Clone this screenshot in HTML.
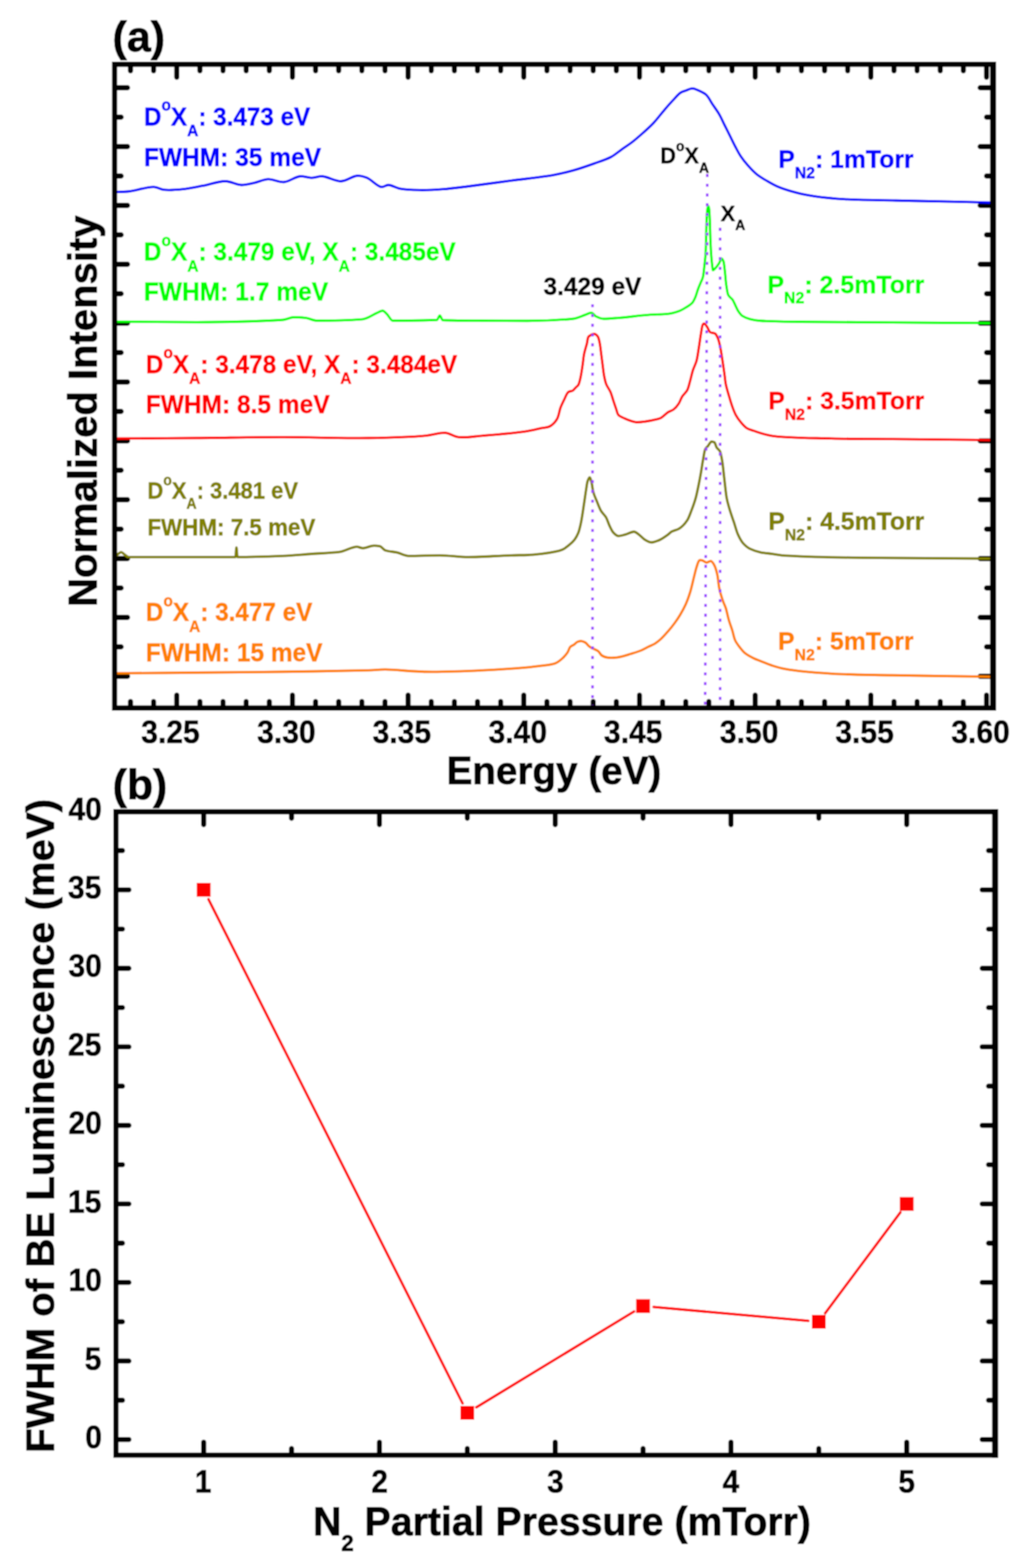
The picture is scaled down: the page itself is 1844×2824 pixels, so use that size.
<!DOCTYPE html>
<html><head><meta charset="utf-8"><title>PL spectra and FWHM vs N2 partial pressure</title>
<style>html,body{margin:0;padding:0;background:#fff;}svg{display:block;}</style></head>
<body>
<svg width="1844" height="2824" viewBox="0 0 1844 2824">
<defs><filter id="soft" filterUnits="userSpaceOnUse" x="0" y="0" width="1844" height="2824"><feGaussianBlur stdDeviation="1.3"/></filter><clipPath id="ca"><rect x="206.4" y="115.8" width="1581.8999999999999" height="1159.3"/></clipPath></defs>
<g filter="url(#soft)">
<rect width="1844" height="2824" fill="#fff"/>
<g fill="none" stroke="#000" stroke-linecap="round" stroke-width="9.3"><path d="M235.0,1270.5 V1263.3 M235.0,120.39999999999999 V127.6 M276.6,1270.5 V1263.3 M276.6,120.39999999999999 V127.6 M318.3,1270.5 V1251.8 M318.3,120.39999999999999 V139.1 M360.0,1270.5 V1263.3 M360.0,120.39999999999999 V127.6 M401.6,1270.5 V1263.3 M401.6,120.39999999999999 V127.6 M443.3,1270.5 V1263.3 M443.3,120.39999999999999 V127.6 M485.0,1270.5 V1263.3 M485.0,120.39999999999999 V127.6 M526.6,1270.5 V1251.8 M526.6,120.39999999999999 V139.1 M568.3,1270.5 V1263.3 M568.3,120.39999999999999 V127.6 M609.9,1270.5 V1263.3 M609.9,120.39999999999999 V127.6 M651.6,1270.5 V1263.3 M651.6,120.39999999999999 V127.6 M693.3,1270.5 V1263.3 M693.3,120.39999999999999 V127.6 M734.9,1270.5 V1251.8 M734.9,120.39999999999999 V139.1 M776.6,1270.5 V1263.3 M776.6,120.39999999999999 V127.6 M818.3,1270.5 V1263.3 M818.3,120.39999999999999 V127.6 M859.9,1270.5 V1263.3 M859.9,120.39999999999999 V127.6 M901.6,1270.5 V1263.3 M901.6,120.39999999999999 V127.6 M943.2,1270.5 V1251.8 M943.2,120.39999999999999 V139.1 M984.9,1270.5 V1263.3 M984.9,120.39999999999999 V127.6 M1026.6,1270.5 V1263.3 M1026.6,120.39999999999999 V127.6 M1068.2,1270.5 V1263.3 M1068.2,120.39999999999999 V127.6 M1109.9,1270.5 V1263.3 M1109.9,120.39999999999999 V127.6 M1151.6,1270.5 V1251.8 M1151.6,120.39999999999999 V139.1 M1193.2,1270.5 V1263.3 M1193.2,120.39999999999999 V127.6 M1234.9,1270.5 V1263.3 M1234.9,120.39999999999999 V127.6 M1276.5,1270.5 V1263.3 M1276.5,120.39999999999999 V127.6 M1318.2,1270.5 V1263.3 M1318.2,120.39999999999999 V127.6 M1359.9,1270.5 V1251.8 M1359.9,120.39999999999999 V139.1 M1401.5,1270.5 V1263.3 M1401.5,120.39999999999999 V127.6 M1443.2,1270.5 V1263.3 M1443.2,120.39999999999999 V127.6 M1484.9,1270.5 V1263.3 M1484.9,120.39999999999999 V127.6 M1526.5,1270.5 V1263.3 M1526.5,120.39999999999999 V127.6 M1568.2,1270.5 V1251.8 M1568.2,120.39999999999999 V139.1 M1609.9,1270.5 V1263.3 M1609.9,120.39999999999999 V127.6 M1651.5,1270.5 V1263.3 M1651.5,120.39999999999999 V127.6 M1693.2,1270.5 V1263.3 M1693.2,120.39999999999999 V127.6 M1734.8,1270.5 V1263.3 M1734.8,120.39999999999999 V127.6 M1776.5,1270.5 V1251.8 M1776.5,120.39999999999999 V139.1 M211.0,158.0 H229.70000000000002 M1783.7,158.0 H1765.0 M211.0,211.0 H218.20000000000002 M1783.7,211.0 H1776.5 M211.0,264.0 H229.70000000000002 M1783.7,264.0 H1765.0 M211.0,317.0 H218.20000000000002 M1783.7,317.0 H1776.5 M211.0,370.0 H229.70000000000002 M1783.7,370.0 H1765.0 M211.0,423.0 H218.20000000000002 M1783.7,423.0 H1776.5 M211.0,476.0 H229.70000000000002 M1783.7,476.0 H1765.0 M211.0,529.0 H218.20000000000002 M1783.7,529.0 H1776.5 M211.0,582.0 H229.70000000000002 M1783.7,582.0 H1765.0 M211.0,635.0 H218.20000000000002 M1783.7,635.0 H1776.5 M211.0,688.0 H229.70000000000002 M1783.7,688.0 H1765.0 M211.0,741.0 H218.20000000000002 M1783.7,741.0 H1776.5 M211.0,794.0 H229.70000000000002 M1783.7,794.0 H1765.0 M211.0,847.0 H218.20000000000002 M1783.7,847.0 H1776.5 M211.0,900.0 H229.70000000000002 M1783.7,900.0 H1765.0 M211.0,953.0 H218.20000000000002 M1783.7,953.0 H1776.5 M211.0,1006.0 H229.70000000000002 M1783.7,1006.0 H1765.0 M211.0,1059.0 H218.20000000000002 M1783.7,1059.0 H1776.5 M211.0,1112.0 H229.70000000000002 M1783.7,1112.0 H1765.0 M211.0,1165.0 H218.20000000000002 M1783.7,1165.0 H1776.5 M211.0,1218.0 H229.70000000000002 M1783.7,1218.0 H1765.0"/><path d="M366.8,2616.1 V2597.3999999999996 M366.8,1466.6 V1485.3 M525.0,2616.1 V2608.8999999999996 M525.0,1466.6 V1473.8 M683.3,2616.1 V2597.3999999999996 M683.3,1466.6 V1485.3 M841.5,2616.1 V2608.8999999999996 M841.5,1466.6 V1473.8 M999.8,2616.1 V2597.3999999999996 M999.8,1466.6 V1485.3 M1158.0,2616.1 V2608.8999999999996 M1158.0,1466.6 V1473.8 M1316.3,2616.1 V2597.3999999999996 M1316.3,1466.6 V1485.3 M1474.5,2616.1 V2608.8999999999996 M1474.5,1466.6 V1473.8 M1632.8,2616.1 V2597.3999999999996 M1632.8,1466.6 V1485.3 M213.4,2592.6 H232.10000000000002 M1787.4,2592.6 H1768.7 M213.4,2521.9 H220.60000000000002 M1787.4,2521.9 H1780.2 M213.4,2451.2 H232.10000000000002 M1787.4,2451.2 H1768.7 M213.4,2380.5 H220.60000000000002 M1787.4,2380.5 H1780.2 M213.4,2309.7 H232.10000000000002 M1787.4,2309.7 H1768.7 M213.4,2239.0 H220.60000000000002 M1787.4,2239.0 H1780.2 M213.4,2168.3 H232.10000000000002 M1787.4,2168.3 H1768.7 M213.4,2097.6 H220.60000000000002 M1787.4,2097.6 H1780.2 M213.4,2026.9 H232.10000000000002 M1787.4,2026.9 H1768.7 M213.4,1956.2 H220.60000000000002 M1787.4,1956.2 H1780.2 M213.4,1885.4 H232.10000000000002 M1787.4,1885.4 H1768.7 M213.4,1814.7 H220.60000000000002 M1787.4,1814.7 H1780.2 M213.4,1744.0 H232.10000000000002 M1787.4,1744.0 H1768.7 M213.4,1673.3 H220.60000000000002 M1787.4,1673.3 H1780.2 M213.4,1602.6 H232.10000000000002 M1787.4,1602.6 H1768.7 M213.4,1531.9 H220.60000000000002 M1787.4,1531.9 H1780.2"/></g>
<g clip-path="url(#ca)" fill="none" stroke-width="4.6" stroke-linejoin="round" stroke-linecap="round">
<path d="M200.0,346.2 C202.6,346.1 204.4,346.0 207.7,345.9 C213.4,345.7 221.9,345.9 230.9,344.9 C243.7,343.5 265.4,336.1 277.2,336.7 C284.6,337.1 288.2,340.9 295.2,341.8 C304.6,343.0 317.4,341.9 328.7,340.8 C340.5,339.6 352.3,336.9 364.7,334.6 C378.0,332.1 393.5,326.2 405.9,326.4 C416.2,326.6 425.2,332.8 434.2,333.1 C442.3,333.4 449.5,331.0 457.4,329.4 C465.8,327.7 474.3,323.1 483.1,322.8 C492.3,322.5 502.1,328.7 511.5,327.9 C521.1,327.1 531.0,318.6 539.8,317.6 C547.1,316.8 553.5,320.2 560.4,320.2 C567.3,320.2 573.4,317.1 581.0,317.6 C590.9,318.3 603.8,326.8 614.4,326.4 C624.3,326.0 634.3,317.2 642.7,316.6 C649.3,316.2 654.4,317.7 660.7,320.2 C668.8,323.5 679.2,335.6 686.5,336.7 C691.4,337.4 694.6,333.0 699.4,333.1 C705.5,333.2 712.1,338.2 720.0,339.7 C730.2,341.7 743.6,342.1 756.0,342.3 C769.3,342.5 783.1,341.8 797.2,340.8 C812.2,339.7 826.1,337.7 843.5,335.6 C866.0,332.8 895.0,328.7 920.7,325.3 C946.5,321.9 977.4,318.8 998.0,315.0 C1012.0,312.4 1021.1,310.1 1032.8,306.8 C1045.1,303.3 1058.3,298.7 1070.0,294.5 C1080.6,290.7 1091.3,287.5 1100.0,282.9 C1107.4,278.9 1112.9,273.8 1119.3,269.3 C1125.7,264.8 1132.3,260.7 1138.6,255.8 C1145.2,250.7 1151.5,245.1 1157.9,239.4 C1164.4,233.6 1171.0,227.8 1177.2,221.1 C1183.8,214.0 1190.4,205.0 1196.5,197.9 C1201.9,191.6 1206.9,185.9 1212.0,180.5 C1216.6,175.6 1221.1,169.9 1225.5,167.0 C1228.7,164.9 1231.7,164.4 1235.1,163.2 C1238.8,161.9 1242.8,159.3 1246.7,159.3 C1250.6,159.3 1254.4,161.4 1258.3,163.2 C1262.7,165.2 1267.8,167.2 1271.8,170.9 C1276.4,175.2 1279.5,182.5 1283.4,188.3 C1287.3,194.1 1291.5,199.6 1295.0,205.6 C1298.6,211.7 1301.4,218.5 1304.6,224.9 C1307.8,231.3 1311.1,237.8 1314.3,244.2 C1317.5,250.7 1320.6,257.4 1323.9,263.6 C1327.1,269.6 1329.9,275.3 1333.6,280.9 C1337.5,286.8 1342.3,292.8 1347.1,298.3 C1351.9,303.7 1356.8,309.1 1362.5,313.7 C1368.4,318.5 1375.5,322.5 1381.9,326.3 C1388.0,329.9 1393.4,333.0 1400.0,335.9 C1407.5,339.2 1416.2,342.0 1425.0,344.5 C1434.5,347.2 1443.5,349.6 1454.9,351.6 C1470.0,354.3 1487.0,356.4 1507.7,358.0 C1536.8,360.2 1578.0,360.2 1613.2,361.1 C1648.4,362.0 1688.0,362.5 1718.7,363.2 C1742.5,363.7 1768.8,364.5 1782.0,364.8 C1788.0,364.9 1790.7,364.9 1795.0,365.0" stroke="#0000ff" />
<path d="M200.0,579.2 C202.6,579.2 205.1,579.2 207.7,579.2 C256.6,579.2 305.5,580.2 354.4,580.2 C405.9,580.2 457.4,579.2 508.9,576.1 C515.8,575.7 522.6,571.4 529.5,571.4 C536.3,571.4 543.2,571.9 550.0,572.5 C556.9,573.1 563.8,577.6 570.7,577.6 C598.1,577.6 625.6,576.9 653.0,575.0 C661.6,574.4 670.2,567.3 678.8,563.7 C682.2,562.3 685.6,559.6 689.0,559.6 C691.6,559.6 694.2,563.4 696.8,565.8 C700.2,569.0 703.7,577.6 707.1,577.6 C733.7,577.6 760.3,577.5 786.9,576.1 C788.6,576.0 790.3,568.3 792.0,568.3 C793.7,568.3 795.5,576.5 797.2,576.6 C821.2,577.5 845.2,577.5 869.2,577.6 C896.1,577.8 923.1,577.9 950.0,577.9 C977.3,577.9 1004.7,576.7 1032.0,574.1 C1039.3,573.4 1046.6,569.5 1053.9,567.0 C1057.6,565.8 1061.2,563.2 1064.9,563.2 C1067.6,563.2 1070.4,568.4 1073.1,569.7 C1077.6,571.9 1082.2,574.1 1086.7,574.1 C1095.8,574.1 1105.0,573.2 1114.1,572.5 C1132.3,571.2 1150.6,568.1 1168.8,567.0 C1179.2,566.3 1189.6,566.3 1200.0,565.5 C1203.9,565.2 1207.7,564.5 1211.6,563.7 C1215.5,562.9 1219.3,561.7 1223.2,560.2 C1227.1,558.7 1230.9,556.3 1234.8,553.9 C1238.6,551.5 1242.5,549.9 1246.3,545.8 C1248.2,543.7 1250.2,539.7 1252.1,535.3 C1253.7,531.8 1255.2,525.6 1256.8,521.4 C1258.3,517.2 1259.9,513.7 1261.4,509.9 C1262.9,506.1 1264.5,504.5 1266.0,498.3 C1266.9,494.8 1267.7,485.3 1268.6,477.4 C1269.3,471.0 1270.0,467.5 1270.7,455.7 C1271.0,451.2 1271.2,439.5 1271.5,430.6 C1271.8,419.5 1272.2,401.4 1272.5,395.0 C1273.0,385.4 1273.5,378.6 1274.0,376.0 C1274.5,373.4 1275.0,371.0 1275.5,371.0 C1276.0,371.0 1276.5,373.2 1277.0,376.0 C1277.4,378.3 1277.8,386.5 1278.2,395.0 C1278.6,402.8 1278.9,421.3 1279.3,430.6 C1279.7,440.8 1280.1,449.7 1280.5,455.7 C1281.1,464.2 1281.6,470.3 1282.2,475.0 C1282.8,480.0 1283.4,486.7 1284.0,486.7 C1285.3,486.7 1286.7,484.6 1288.0,483.2 C1290.3,480.8 1292.7,477.5 1295.0,473.9 C1296.5,471.6 1298.1,465.8 1299.6,465.8 C1300.8,465.8 1301.9,468.3 1303.1,471.6 C1303.9,473.8 1304.6,482.4 1305.4,489.0 C1306.2,495.6 1306.9,506.8 1307.7,512.2 C1308.9,520.5 1310.0,528.3 1311.2,530.7 C1313.9,536.3 1316.6,536.0 1319.3,540.0 C1320.8,542.3 1322.4,546.1 1323.9,549.2 C1325.8,553.1 1327.8,557.9 1329.7,560.8 C1332.0,564.2 1334.4,567.4 1336.7,568.9 C1341.3,571.9 1346.0,573.6 1350.6,574.7 C1356.4,576.1 1362.2,577.2 1368.0,577.6 C1372.0,577.9 1376.0,578.1 1380.0,578.2 C1400.8,578.9 1421.5,579.4 1442.3,579.6 C1497.0,580.2 1551.7,580.4 1606.4,580.7 C1666.6,581.1 1726.7,581.8 1786.9,581.8 C1789.6,581.8 1792.3,581.8 1795.0,581.8" stroke="#00ff00" />
<path d="M200.0,789.9 C202.6,789.9 203.5,789.9 207.7,789.9 C225.9,789.8 304.9,789.3 354.4,788.9 C405.2,788.5 457.4,787.3 508.9,787.3 C560.4,787.3 617.0,789.6 663.3,788.9 C701.1,788.3 740.8,787.0 766.3,784.7 C781.4,783.3 791.7,778.6 802.3,779.6 C811.0,780.4 816.4,786.1 825.5,787.3 C837.7,788.9 852.6,786.0 869.2,784.7 C891.3,782.9 927.1,780.0 946.5,777.0 C958.4,775.2 967.0,772.7 975.0,771.0 C980.8,769.8 985.5,770.3 990.0,767.9 C994.9,765.3 999.7,760.3 1002.9,755.0 C1006.4,749.3 1007.0,740.6 1009.3,734.4 C1011.3,729.2 1013.4,725.0 1015.7,720.3 C1018.1,715.5 1020.3,708.8 1023.5,706.1 C1025.8,704.2 1028.9,705.0 1031.2,703.6 C1033.6,702.1 1035.7,699.0 1037.6,697.1 C1039.1,695.7 1040.4,695.1 1041.5,693.3 C1043.2,690.4 1044.2,685.4 1045.3,680.4 C1046.8,673.8 1048.1,664.6 1049.2,657.2 C1050.2,650.5 1050.5,644.3 1051.8,637.9 C1053.1,631.4 1055.5,624.2 1056.9,618.6 C1058.0,614.3 1057.8,609.6 1059.5,607.0 C1060.7,605.1 1062.8,604.2 1064.6,603.2 C1066.3,602.3 1068.0,601.0 1069.8,601.2 C1071.9,601.5 1074.6,603.4 1076.2,605.7 C1078.4,608.7 1079.1,613.8 1080.1,618.6 C1081.3,624.3 1081.8,631.5 1082.7,637.9 C1083.5,644.3 1084.4,650.8 1085.2,657.2 C1086.1,663.6 1086.6,670.4 1087.8,676.5 C1088.9,682.0 1089.8,687.1 1091.7,692.0 C1093.6,696.9 1097.3,701.2 1099.4,706.1 C1101.5,711.1 1102.8,716.4 1104.5,721.6 C1106.2,726.7 1108.1,732.4 1109.7,737.0 C1111.1,740.8 1111.2,744.6 1113.6,747.3 C1116.2,750.3 1120.7,751.7 1125.1,753.7 C1130.6,756.1 1137.9,759.4 1144.4,760.2 C1150.8,761.0 1157.3,759.8 1163.7,758.9 C1170.2,758.0 1178.3,756.2 1183.1,755.0 C1186.0,754.2 1187.5,754.1 1190.0,752.8 C1193.8,750.8 1198.7,745.2 1202.9,742.5 C1206.4,740.2 1210.1,739.7 1213.2,737.3 C1216.6,734.7 1219.7,730.8 1222.2,727.0 C1224.8,723.1 1226.0,718.2 1228.6,714.1 C1231.2,710.0 1235.3,707.0 1237.6,702.6 C1240.1,697.7 1241.1,691.6 1242.8,685.8 C1244.6,679.6 1245.9,672.6 1247.9,666.5 C1249.8,660.7 1252.6,655.8 1254.3,649.8 C1256.2,643.1 1256.9,635.5 1258.2,627.9 C1259.6,619.7 1260.7,610.0 1262.1,602.2 C1263.3,595.6 1264.0,586.7 1265.9,584.2 C1266.7,583.2 1267.6,582.7 1268.5,582.9 C1270.1,583.2 1272.1,586.9 1273.7,589.3 C1275.5,592.0 1276.4,596.4 1278.8,598.3 C1281.1,600.1 1285.5,599.1 1287.8,600.9 C1290.3,602.8 1291.6,606.5 1293.0,609.9 C1294.7,614.0 1295.6,618.8 1296.8,624.1 C1298.3,630.8 1299.4,639.3 1300.7,647.2 C1302.0,655.6 1303.4,665.0 1304.5,673.0 C1305.5,679.9 1305.8,685.9 1307.1,692.3 C1308.4,698.8 1310.4,705.1 1312.3,711.6 C1314.3,718.4 1316.4,725.9 1318.7,732.2 C1320.7,737.8 1322.5,742.8 1325.1,747.6 C1327.6,752.2 1330.8,756.6 1334.1,760.5 C1337.3,764.3 1340.5,768.2 1344.4,770.8 C1348.2,773.3 1352.0,774.1 1357.3,775.9 C1365.7,778.7 1375.8,782.7 1390.0,784.9 C1415.2,788.9 1461.1,788.7 1497.0,789.7 C1533.3,790.7 1565.4,790.4 1606.4,790.8 C1659.1,791.3 1765.9,792.4 1786.9,792.5 C1791.4,792.5 1792.3,792.5 1795.0,792.5" stroke="#ff0000" />
<path d="M200.0,1003.0 C202.3,1003.0 204.7,1003.0 207.0,1003.0 C209.0,1003.0 211.0,998.9 213.0,997.5 C214.8,996.3 216.6,994.5 218.4,994.5 C220.3,994.5 222.1,997.3 224.0,998.5 C226.6,1000.2 229.2,1003.3 231.8,1003.3 C272.7,1003.3 313.5,1003.3 354.4,1003.3 C377.6,1003.3 400.8,1003.3 424.0,1003.2 C424.6,1003.2 425.2,986.0 425.8,986.0 C426.4,986.0 427.0,1003.2 427.6,1003.2 C454.7,1003.2 481.8,1002.2 508.9,1001.2 C526.1,1000.6 543.2,998.8 560.4,997.6 C577.5,996.4 594.7,996.1 611.8,994.0 C622.1,992.8 632.4,984.7 642.7,984.7 C646.1,984.7 649.6,987.3 653.0,987.3 C659.9,987.3 666.7,982.7 673.6,982.7 C677.0,982.7 680.5,983.1 683.9,983.7 C687.3,984.3 690.8,990.4 694.2,991.4 C701.1,993.5 707.9,993.5 714.8,995.0 C721.7,996.5 728.5,1001.2 735.4,1001.2 C754.3,1001.2 773.1,1000.2 792.0,1000.2 C809.2,1000.2 826.3,1003.3 843.5,1003.3 C869.2,1003.3 895.0,1000.9 920.7,1000.2 C930.5,999.9 940.2,999.9 950.0,999.6 C958.3,999.3 966.7,998.4 975.0,997.5 C983.3,996.6 991.7,995.4 1000.0,993.6 C1004.3,992.7 1008.6,991.6 1012.9,989.8 C1017.2,988.0 1021.4,984.4 1025.7,980.8 C1028.7,978.3 1031.7,975.7 1034.7,971.8 C1036.9,969.0 1039.0,965.5 1041.2,960.2 C1042.9,956.0 1044.6,948.9 1046.3,940.9 C1048.0,932.8 1049.8,919.9 1051.5,908.7 C1052.8,900.5 1054.0,891.0 1055.3,883.0 C1056.2,877.5 1057.0,870.2 1057.9,867.5 C1059.2,863.5 1060.5,859.8 1061.8,859.8 C1062.9,859.8 1063.9,863.9 1065.0,867.5 C1066.1,871.1 1067.1,881.5 1068.2,885.5 C1070.3,893.5 1072.5,897.0 1074.6,902.3 C1077.2,908.7 1079.8,916.0 1082.4,920.3 C1085.4,925.3 1088.4,926.8 1091.4,931.9 C1093.5,935.5 1095.7,942.9 1097.8,947.3 C1099.9,951.7 1102.1,956.7 1104.2,958.9 C1107.2,962.1 1110.3,965.3 1113.3,965.3 C1117.6,965.3 1121.8,963.8 1126.1,962.8 C1131.3,961.5 1136.4,957.6 1141.6,957.6 C1144.6,957.6 1147.6,960.7 1150.6,962.8 C1154.0,965.2 1157.5,969.9 1160.9,971.8 C1165.2,974.2 1169.4,976.9 1173.7,976.9 C1178.0,976.9 1182.3,974.7 1186.6,973.0 C1192.0,970.8 1197.5,966.7 1202.9,962.8 C1205.0,961.3 1207.2,958.8 1209.3,957.6 C1213.6,955.2 1217.9,954.9 1222.2,952.5 C1227.3,949.6 1232.5,944.6 1237.6,937.0 C1240.2,933.2 1242.7,925.7 1245.3,919.0 C1247.9,912.2 1250.5,905.3 1253.1,895.8 C1254.8,889.6 1256.5,881.0 1258.2,872.7 C1259.5,866.3 1260.8,859.5 1262.1,852.1 C1263.4,844.9 1264.6,835.8 1265.9,828.9 C1267.2,821.8 1268.5,812.3 1269.8,809.6 C1271.5,806.1 1273.2,805.3 1274.9,803.2 C1277.1,800.5 1279.2,795.4 1281.4,795.4 C1283.1,795.4 1284.8,795.9 1286.5,796.7 C1287.8,797.3 1289.1,803.6 1290.4,805.7 C1292.5,809.2 1294.7,809.2 1296.8,813.5 C1298.1,816.1 1299.4,823.7 1300.7,831.5 C1302.0,839.1 1303.2,853.1 1304.5,863.7 C1305.8,874.6 1307.1,888.7 1308.4,895.8 C1310.1,905.2 1311.9,910.4 1313.6,916.4 C1316.2,925.3 1318.7,931.9 1321.3,939.6 C1323.9,947.3 1326.4,957.2 1329.0,962.8 C1332.0,969.4 1335.0,974.9 1338.0,978.2 C1342.3,983.0 1346.6,986.4 1350.9,988.5 C1357.3,991.6 1363.8,993.7 1370.2,994.9 C1376.8,996.1 1383.4,996.6 1390.0,997.5 C1398.3,998.6 1406.6,1000.3 1414.9,1000.7 C1460.5,1003.1 1506.1,1004.0 1551.7,1004.5 C1630.1,1005.4 1708.5,1006.1 1786.9,1006.1 C1789.6,1006.1 1792.3,1006.1 1795.0,1006.1" stroke="#808000" />
<path d="M200.0,1212.5 C202.6,1212.5 203.5,1212.5 207.7,1212.5 C225.9,1212.4 304.9,1211.8 354.4,1211.4 C405.2,1211.0 457.4,1210.6 508.9,1209.9 C560.4,1209.2 631.5,1208.3 663.3,1207.3 C677.5,1206.8 681.8,1205.7 694.2,1205.8 C713.2,1205.9 740.1,1209.5 766.3,1209.9 C797.5,1210.4 837.4,1208.8 869.2,1207.3 C896.8,1206.0 927.0,1203.9 946.5,1202.2 C958.3,1201.1 965.8,1200.3 975.0,1199.0 C983.6,1197.8 993.3,1197.4 1000.0,1194.6 C1005.3,1192.4 1009.2,1189.0 1012.9,1185.6 C1016.4,1182.5 1019.5,1178.9 1021.9,1175.3 C1024.1,1172.0 1024.8,1167.4 1027.0,1165.0 C1028.8,1163.1 1031.4,1162.7 1033.5,1161.2 C1035.7,1159.7 1037.5,1157.1 1039.9,1156.0 C1042.2,1154.9 1045.2,1154.4 1047.6,1154.7 C1049.9,1154.9 1052.1,1156.0 1054.1,1157.3 C1056.4,1158.8 1058.3,1161.9 1060.5,1163.7 C1062.5,1165.3 1064.5,1166.3 1066.9,1167.6 C1069.9,1169.3 1074.3,1170.5 1077.2,1172.8 C1079.9,1174.9 1081.0,1178.6 1083.7,1180.5 C1086.5,1182.5 1090.2,1183.6 1094.0,1184.3 C1098.6,1185.1 1104.5,1184.8 1109.4,1184.3 C1113.9,1183.9 1118.0,1182.9 1122.3,1181.8 C1126.6,1180.7 1130.4,1179.4 1135.1,1177.9 C1140.9,1176.1 1148.7,1173.9 1154.4,1171.5 C1159.2,1169.5 1163.0,1167.2 1167.3,1165.0 C1171.6,1162.9 1176.3,1161.1 1180.2,1158.6 C1183.8,1156.3 1186.6,1154.0 1190.0,1150.9 C1194.2,1147.1 1198.8,1141.8 1203.0,1137.0 C1207.2,1132.2 1211.3,1127.1 1215.0,1122.0 C1218.6,1117.1 1221.8,1112.4 1225.0,1107.0 C1228.5,1101.1 1232.0,1094.7 1235.0,1088.0 C1238.1,1081.0 1240.6,1073.7 1243.0,1066.0 C1245.5,1057.8 1247.5,1048.0 1249.5,1040.0 C1251.3,1033.2 1252.6,1026.5 1254.5,1021.0 C1256.0,1016.6 1257.2,1010.8 1259.5,1009.3 C1261.0,1008.3 1262.8,1008.9 1264.6,1009.3 C1267.0,1009.9 1269.8,1013.0 1272.4,1013.2 C1274.9,1013.4 1277.8,1010.0 1280.1,1010.6 C1282.6,1011.3 1284.7,1015.0 1286.5,1018.3 C1288.9,1022.6 1290.3,1028.8 1291.7,1035.0 C1293.4,1042.6 1293.7,1052.6 1295.5,1060.8 C1297.2,1068.5 1299.8,1076.4 1302.0,1082.7 C1303.7,1087.6 1305.5,1090.7 1307.1,1095.5 C1309.0,1101.5 1310.3,1109.4 1312.3,1116.1 C1314.2,1122.7 1316.7,1129.1 1318.7,1135.4 C1320.6,1141.5 1321.5,1148.2 1323.9,1153.4 C1326.0,1157.9 1328.7,1161.2 1331.6,1165.0 C1334.7,1169.0 1337.8,1173.2 1341.9,1176.6 C1346.3,1180.2 1352.3,1183.2 1357.3,1185.6 C1361.7,1187.8 1365.4,1188.9 1370.2,1190.8 C1376.1,1193.1 1383.0,1196.2 1390.0,1198.5 C1397.8,1201.0 1404.1,1203.1 1414.9,1205.1 C1434.2,1208.6 1467.6,1211.5 1497.0,1213.3 C1530.8,1215.4 1565.4,1215.3 1606.4,1216.1 C1659.1,1217.2 1765.9,1218.6 1786.9,1218.8 C1791.4,1218.8 1792.3,1218.8 1795.0,1218.8" stroke="#ff8000" />
</g>
<g stroke="#9a3cff" stroke-width="4.6" stroke-dasharray="5.4 12.20" fill="none"><path d="M1067.0,547.9 L1067.0,1270"/><path d="M1273.7,313.3 L1269.8,1270"/><path d="M1296.8,410.3 L1296.8,1270"/></g>
<rect x="206.4" y="115.8" width="1581.8999999999999" height="1159.3" fill="none" stroke="#000" stroke-width="9.5"/>
<g stroke="#ff0000" stroke-width="4.8" fill="none" stroke-linecap="round"><path d="M375.4,1619.6 L833.0,2527.5 M857.8,2534.6 L1141.8,2362.0 M1177.0,2353.9 L1455.6,2378.8 M1485.9,2365.2 L1621.4,2183.5"/></g>
<rect x="354.3" y="1590.1" width="25.0" height="25.0" fill="#ff0000"/><rect x="829.0" y="2532.0" width="25.0" height="25.0" fill="#ff0000"/><rect x="1145.5" y="2339.7" width="25.0" height="25.0" fill="#ff0000"/><rect x="1462.0" y="2368.0" width="25.0" height="25.0" fill="#ff0000"/><rect x="1620.3" y="2155.8" width="25.0" height="25.0" fill="#ff0000"/>
<rect x="208.8" y="1462.0" width="1583.2" height="1158.6999999999998" fill="none" stroke="#000" stroke-width="9.5"/>
<path d="M1788.3,111.05 V1279.85 M1792.0,1457.25 V2625.45" stroke="#000" stroke-width="11" fill="none"/>
<g font-family="Liberation Sans, Arial, sans-serif" font-weight="bold" stroke-linejoin="round">
<text transform="translate(259.21,225.53) scale(0.9288,1)" font-size="47.04" fill="#0000ff" stroke="#0000ff" stroke-width="0.94"><tspan>D</tspan><tspan dy="-26.34" font-size="30.11">o</tspan><tspan dy="26.34">X</tspan><tspan dy="19.76" font-size="30.11">A</tspan><tspan dy="-19.76">: 3.473 eV</tspan></text>
<text transform="translate(259.18,298.93) scale(0.9392,1)" font-size="47.04" fill="#0000ff" stroke="#0000ff" stroke-width="0.94">FWHM: 35 meV</text>
<text transform="translate(259.00,469.03) scale(0.9339,1)" font-size="47.04" fill="#00ff00" stroke="#00ff00" stroke-width="0.94"><tspan>D</tspan><tspan dy="-26.34" font-size="30.11">o</tspan><tspan dy="26.34">X</tspan><tspan dy="19.76" font-size="30.11">A</tspan><tspan dy="-19.76">: 3.479 eV, </tspan><tspan>X</tspan><tspan dy="19.76" font-size="30.11">A</tspan><tspan dy="-19.76">: 3.485eV</tspan></text>
<text transform="translate(258.98,541.43) scale(0.9411,1)" font-size="47.04" fill="#00ff00" stroke="#00ff00" stroke-width="0.94">FWHM: 1.7 meV</text>
<text transform="translate(262.50,671.53) scale(0.9324,1)" font-size="47.04" fill="#ff0000" stroke="#ff0000" stroke-width="0.94"><tspan>D</tspan><tspan dy="-26.34" font-size="30.11">o</tspan><tspan dy="26.34">X</tspan><tspan dy="19.76" font-size="30.11">A</tspan><tspan dy="-19.76">: 3.478 eV, </tspan><tspan>X</tspan><tspan dy="19.76" font-size="30.11">A</tspan><tspan dy="-19.76">: 3.484eV</tspan></text>
<text transform="translate(262.48,744.43) scale(0.9386,1)" font-size="47.04" fill="#ff0000" stroke="#ff0000" stroke-width="0.94">FWHM: 8.5 meV</text>
<text transform="translate(265.43,897.78) scale(0.9339,1)" font-size="42.37" fill="#808000" stroke="#808000" stroke-width="0.85"><tspan>D</tspan><tspan dy="-23.73" font-size="27.12">o</tspan><tspan dy="23.73">X</tspan><tspan dy="17.80" font-size="27.12">A</tspan><tspan dy="-17.80">: 3.481 eV</tspan></text>
<text transform="translate(265.40,963.88) scale(0.9519,1)" font-size="42.37" fill="#808000" stroke="#808000" stroke-width="0.85">FWHM: 7.5 meV</text>
<text transform="translate(262.61,1118.23) scale(0.9297,1)" font-size="47.04" fill="#ff8000" stroke="#ff8000" stroke-width="0.94"><tspan>D</tspan><tspan dy="-26.34" font-size="30.11">o</tspan><tspan dy="26.34">X</tspan><tspan dy="19.76" font-size="30.11">A</tspan><tspan dy="-19.76">: 3.477 eV</tspan></text>
<text transform="translate(262.59,1190.93) scale(0.9365,1)" font-size="47.04" fill="#ff8000" stroke="#ff8000" stroke-width="0.94">FWHM: 15 meV</text>
<text transform="translate(1401.51,302.45) scale(0.9975,1)" font-size="44.7" fill="#0000ff" stroke="#0000ff" stroke-width="0.89"><tspan>P</tspan><tspan dy="18.77" font-size="28.61">N2</tspan><tspan dy="-18.77">: 1mTorr</tspan></text>
<text transform="translate(1381.89,527.55) scale(1.0032,1)" font-size="44.7" fill="#00ff00" stroke="#00ff00" stroke-width="0.89"><tspan>P</tspan><tspan dy="18.77" font-size="28.61">N2</tspan><tspan dy="-18.77">: 2.5mTorr</tspan></text>
<text transform="translate(1383.51,737.05) scale(0.9975,1)" font-size="44.7" fill="#ff0000" stroke="#ff0000" stroke-width="0.89"><tspan>P</tspan><tspan dy="18.77" font-size="28.61">N2</tspan><tspan dy="-18.77">: 3.5mTorr</tspan></text>
<text transform="translate(1383.51,954.05) scale(0.9975,1)" font-size="44.7" fill="#808000" stroke="#808000" stroke-width="0.89"><tspan>P</tspan><tspan dy="18.77" font-size="28.61">N2</tspan><tspan dy="-18.77">: 4.5mTorr</tspan></text>
<text transform="translate(1401.00,1170.06) scale(0.9988,1)" font-size="44.7" fill="#ff8000" stroke="#ff8000" stroke-width="0.89"><tspan>P</tspan><tspan dy="18.77" font-size="28.61">N2</tspan><tspan dy="-18.77">: 5mTorr</tspan></text>
<text transform="translate(1189.05,294.40) scale(0.9739,1)" font-size="40.14" fill="#000" stroke="#000" stroke-width="0.8"><tspan>D</tspan><tspan dy="-22.48" font-size="25.69">o</tspan><tspan dy="22.48">X</tspan><tspan dy="16.86" font-size="25.69">A</tspan></text>
<text transform="translate(1297.80,397.61) scale(0.9886,1)" font-size="39.55" fill="#000" stroke="#000" stroke-width="0.79"><tspan>X</tspan><tspan dy="16.61" font-size="25.31">A</tspan></text>
<text transform="translate(978.82,530.75) scale(0.9843,1)" font-size="44.7" fill="#000" stroke="#000" stroke-width="0.89">3.429 eV</text>
<text transform="translate(202.61,92.25) scale(1.0302,1)" font-size="75.32" fill="#000" stroke="#000" stroke-width="1.51">(a)</text>
<text transform="translate(202.66,1438.53) scale(1.0132,1)" font-size="76.29" fill="#000" stroke="#000" stroke-width="1.53">(b)</text>
<text transform="translate(804.15,1412.20) scale(0.9878,1)" font-size="70.46" fill="#000" stroke="#000" stroke-width="1.41">Energy (eV)</text>
<text transform="translate(563.70,2765.47) scale(0.9750,1)" font-size="72.5" fill="#000" stroke="#000" stroke-width="1.45"><tspan>N</tspan><tspan dy="27.91" font-size="40.96">2</tspan><tspan dy="-27.91"> Partial Pressure (mTorr)</tspan></text>
<text transform="translate(173.58,1092.98) rotate(-90) scale(0.9957,1)" font-size="72.4" fill="#000" stroke="#000" stroke-width="1.45">Normalized Intensity</text>
<text transform="translate(96.70,2616.44) rotate(-90) scale(1.0340,1)" font-size="69.97" fill="#000" stroke="#000" stroke-width="1.4">FWHM of BE Luminescence (meV)</text>
<text transform="translate(254.28,1337.92) scale(0.9450,1)" font-size="57.34" fill="#000" stroke="#000" stroke-width="1.15">3.25</text>
<text transform="translate(463.07,1337.92) scale(0.9450,1)" font-size="57.34" fill="#000" stroke="#000" stroke-width="1.15">3.30</text>
<text transform="translate(670.91,1337.92) scale(0.9450,1)" font-size="57.34" fill="#000" stroke="#000" stroke-width="1.15">3.35</text>
<text transform="translate(879.70,1337.92) scale(0.9450,1)" font-size="57.34" fill="#000" stroke="#000" stroke-width="1.15">3.40</text>
<text transform="translate(1087.54,1337.92) scale(0.9450,1)" font-size="57.34" fill="#000" stroke="#000" stroke-width="1.15">3.45</text>
<text transform="translate(1296.33,1337.92) scale(0.9450,1)" font-size="57.34" fill="#000" stroke="#000" stroke-width="1.15">3.50</text>
<text transform="translate(1504.17,1337.92) scale(0.9450,1)" font-size="57.34" fill="#000" stroke="#000" stroke-width="1.15">3.55</text>
<text transform="translate(1712.96,1337.92) scale(0.9450,1)" font-size="57.34" fill="#000" stroke="#000" stroke-width="1.15">3.60</text>
<text transform="translate(350.74,2687.63) scale(0.9450,1)" font-size="56.85" fill="#000" stroke="#000" stroke-width="1.14">1</text>
<text transform="translate(668.65,2687.63) scale(0.9450,1)" font-size="56.85" fill="#000" stroke="#000" stroke-width="1.14">2</text>
<text transform="translate(985.15,2687.63) scale(0.9450,1)" font-size="56.85" fill="#000" stroke="#000" stroke-width="1.14">3</text>
<text transform="translate(1301.18,2687.63) scale(0.9450,1)" font-size="56.85" fill="#000" stroke="#000" stroke-width="1.14">4</text>
<text transform="translate(1617.68,2687.63) scale(0.9450,1)" font-size="56.85" fill="#000" stroke="#000" stroke-width="1.14">5</text>
<text transform="translate(153.45,2608.03) scale(0.9450,1)" font-size="57.34" fill="#000" stroke="#000" stroke-width="1.15">0</text>
<text transform="translate(152.51,2466.60) scale(0.9450,1)" font-size="57.34" fill="#000" stroke="#000" stroke-width="1.15">5</text>
<text transform="translate(123.21,2325.16) scale(0.9450,1)" font-size="57.34" fill="#000" stroke="#000" stroke-width="1.15">10</text>
<text transform="translate(122.27,2183.74) scale(0.9450,1)" font-size="57.34" fill="#000" stroke="#000" stroke-width="1.15">15</text>
<text transform="translate(123.21,2042.30) scale(0.9450,1)" font-size="57.34" fill="#000" stroke="#000" stroke-width="1.15">20</text>
<text transform="translate(122.27,1900.87) scale(0.9450,1)" font-size="57.34" fill="#000" stroke="#000" stroke-width="1.15">25</text>
<text transform="translate(123.21,1759.44) scale(0.9450,1)" font-size="57.34" fill="#000" stroke="#000" stroke-width="1.15">30</text>
<text transform="translate(122.27,1618.01) scale(0.9450,1)" font-size="57.34" fill="#000" stroke="#000" stroke-width="1.15">35</text>
<text transform="translate(123.21,1476.58) scale(0.9450,1)" font-size="57.34" fill="#000" stroke="#000" stroke-width="1.15">40</text>
</g>
</g>
</svg>
</body></html>
